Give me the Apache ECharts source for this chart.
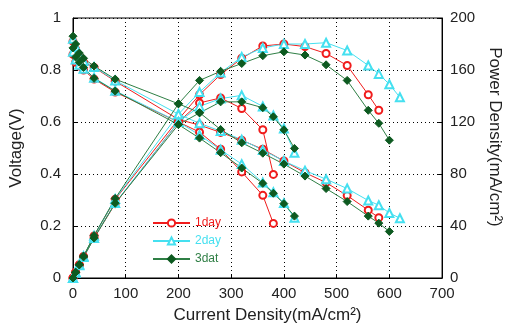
<!DOCTYPE html>
<html><head><meta charset="utf-8">
<script src="https://cdn.jsdelivr.net/npm/echarts/dist/echarts.min.js"></script>
<style>html,body{margin:0;padding:0;background:#fff}#c{width:511px;height:329px}</style>
</head><body><div id="c"></div>
<script>
// ---- data ----
const legendNames = ['1day', '2day', '3dat'];
const xTicks = [0, 100, 200, 300, 400, 500, 600, 700];
const vTicks = [0, 0.2, 0.4, 0.6, 0.8, 1];
const pTicks = [0, 40, 80, 120, 160, 200];

// long run (to ~600 mA/cm2)
const xLongRed   = [0,5,12,20,40,80,200,240,280,320,360,400,440,480,520,560,580];
const vLongRed   = [0.91,0.88,0.85,0.83,0.81,0.757,0.61,0.588,0.56,0.53,0.495,0.45,0.405,0.367,0.317,0.261,0.232];
const pLongRed   = [0,4.4,10.2,16.6,32.4,60.5,122,141,156.5,169,178.5,180,178,172.7,163.5,141,129];

const xLongCyan  = [0,5,12,20,40,80,200,240,280,320,360,400,440,480,520,560,580,600,620];
const vLongCyan  = [0.92,0.89,0.86,0.835,0.812,0.76,0.63,0.595,0.565,0.532,0.492,0.45,0.413,0.38,0.344,0.298,0.28,0.25,0.23];
const pLongCyan  = [0,4.5,10.3,16.7,32.5,60.8,126,143,158,170,177,180,180,181,175,163.5,157,149,139];

const xLongGreen = [0,5,12,20,40,80,200,240,280,320,360,400,440,480,520,560,580,600];
const vLongGreen = [0.93,0.90,0.865,0.845,0.815,0.765,0.67,0.636,0.571,0.52,0.48,0.438,0.392,0.344,0.294,0.238,0.211,0.179];
const pLongGreen = [0,4.5,10.4,16.9,32.6,61.2,134,152,159,165,171,174,171.5,164,152,129,119,106];

// short run (to ~400 mA/cm2)
const xShortRed   = [0,5,12,20,40,80,200,240,280,320,360,380];
const vShortRed   = [0.86,0.83,0.815,0.80,0.765,0.715,0.60,0.561,0.495,0.408,0.318,0.21];
const pShortRed   = [0,4.2,9.8,16,30.6,57.2,120,134.7,138.5,130.4,114,79.7];

const xShortCyan  = [0,5,12,20,40,80,200,240,280,320,360,380,400,420];
const vShortCyan  = [0.87,0.84,0.82,0.805,0.77,0.72,0.60,0.55,0.493,0.438,0.367,0.33,0.288,0.232];
const pShortCyan  = [0,4.2,9.8,16.1,30.8,57.6,120,132,138,140.5,132,125,115,96.4];

const xShortGreen = [0,5,12,20,40,80,200,240,280,320,360,380,400,420];
const vShortGreen = [0.885,0.85,0.83,0.81,0.768,0.719,0.59,0.538,0.482,0.423,0.364,0.326,0.286,0.238];
const pShortGreen = [0,4.3,10,16.2,30.7,57.5,118,127,135.5,135.5,131,124,114,99.7];

// ---- styles ----
const RED = '#f01c1c', CYAN = '#45e0f0', GREEN = '#2f7f45', GREEN_M = '#0d5a20';
const styles = {
  '1day': {color: RED, symbol: 'emptyCircle', size: 7},
  '2day': {color: CYAN, symbol: 'emptyTriangle', size: 8},
  '3dat': {color: GREEN, symbol: 'diamond', size: 8}
};
function mk(name, xs, ys, yAxisIndex) {
  const s = styles[name];
  const mc = s.symbol === 'diamond' ? GREEN_M : s.color;
  return {
    name: name, type: 'line', yAxisIndex: yAxisIndex,
    data: xs.map((x, i) => [x, ys[i]]),
    symbol: s.symbol, symbolSize: s.size,
    lineStyle: {color: s.color, width: 1},
    itemStyle: {color: mc, borderColor: mc, borderWidth: 1},
    emphasis: {disabled: true}
  };
}
const series = [
  mk('1day', xLongRed, vLongRed, 0), mk('1day', xLongRed, pLongRed, 1),
  mk('1day', xShortRed, vShortRed, 0), mk('1day', xShortRed, pShortRed, 1),
  mk('2day', xLongCyan, vLongCyan, 0), mk('2day', xLongCyan, pLongCyan, 1),
  mk('2day', xShortCyan, vShortCyan, 0), mk('2day', xShortCyan, pShortCyan, 1),
  mk('3dat', xLongGreen, vLongGreen, 0), mk('3dat', xLongGreen, pLongGreen, 1),
  mk('3dat', xShortGreen, vShortGreen, 0), mk('3dat', xShortGreen, pShortGreen, 1)
];

const FONT = 'Arial, "Liberation Sans", sans-serif';
const TXT = '#222';
const chart = echarts.init(document.getElementById('c'), null, {renderer: 'canvas'});
chart.setOption({
  animation: false,
  backgroundColor: '#fff',
  grid: {left: 72, right: 60, top: 18, bottom: 45, show: true, borderColor: '#000', borderWidth: 1},
  legend: {
    orient: 'vertical', left: 147, top: 212, itemWidth: 37, itemHeight: 9, itemGap: 6,
    data: legendNames.map(n => ({name: n, textStyle: {color: styles[n].color}})),
    textStyle: {fontFamily: FONT, fontSize: 12}
  },
  xAxis: {
    type: 'value', min: xTicks[0], max: xTicks[xTicks.length - 1], interval: 100,
    name: 'Current Density(mA/cm²)', nameLocation: 'middle', nameGap: 29,
    nameTextStyle: {fontFamily: FONT, fontSize: 17, color: TXT, padding: [0, 0, 0, 20]},
    axisLine: {lineStyle: {color: '#000'}},
    axisTick: {inside: true, length: 4, lineStyle: {color: '#000'}},
    axisLabel: {fontFamily: FONT, fontSize: 15, color: TXT, margin: 8},
    splitLine: {show: true, lineStyle: {color: '#000', type: [1, 3], width: 1}}
  },
  yAxis: [{
    type: 'value', min: vTicks[0], max: vTicks[vTicks.length - 1], interval: 0.2,
    name: 'Voltage(V)', nameLocation: 'middle', nameGap: 48,
    nameTextStyle: {fontFamily: FONT, fontSize: 17, color: TXT},
    axisLine: {show: true, lineStyle: {color: '#000'}},
    axisTick: {show: true, inside: true, length: 4, lineStyle: {color: '#000'}},
    axisLabel: {fontFamily: FONT, fontSize: 15, color: TXT, margin: 12},
    splitLine: {show: true, lineStyle: {color: '#000', type: [1, 3], width: 1}}
  }, {
    type: 'value', position: 'right', min: pTicks[0], max: pTicks[pTicks.length - 1], interval: 40,
    name: 'Power Density(mA/cm²)', nameLocation: 'middle', nameGap: 40, nameRotate: -90,
    nameTextStyle: {fontFamily: FONT, fontSize: 17, color: TXT, padding: [0, 22, 0, 0]},
    axisLine: {show: true, lineStyle: {color: '#000'}},
    axisTick: {show: true, inside: true, length: 4, lineStyle: {color: '#000'}},
    axisLabel: {fontFamily: FONT, fontSize: 15, color: TXT, margin: 8},
    splitLine: {show: false}
  }],
  series: series
});
</script></body></html>
